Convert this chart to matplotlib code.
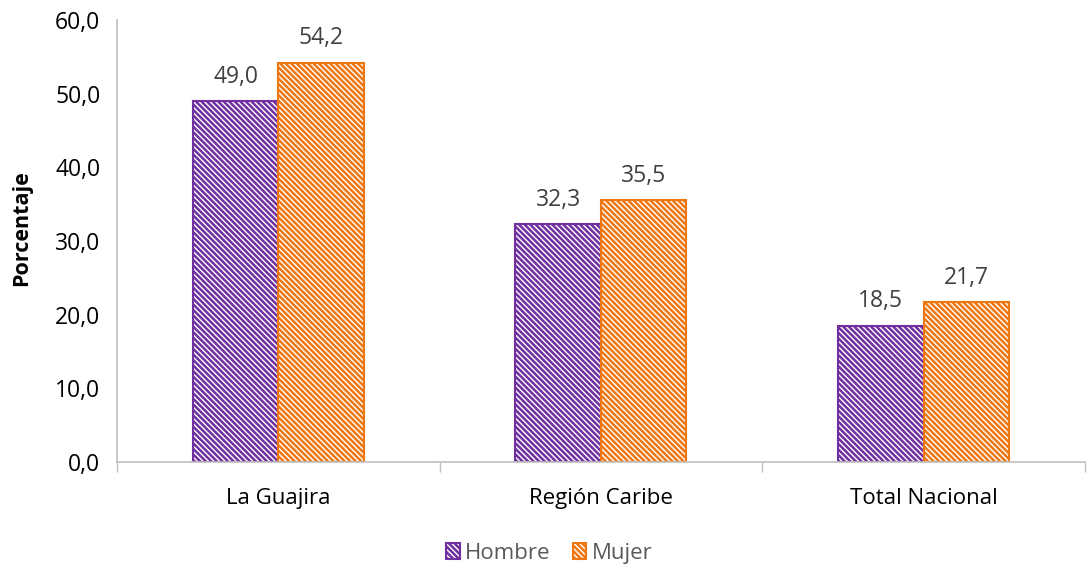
import matplotlib
matplotlib.use('Agg')
import matplotlib.pyplot as plt
import numpy as np

categorias = ["La Guajira", "Región Caribe", "Total Nacional"]
hombre = [49.0, 32.3, 18.5]
mujer = [54.2, 35.5, 21.7]
series = ["Hombre", "Mujer"]
yticks = [0, 10, 20, 30, 40, 50, 60]

purple = "#7030A0"
orange = "#EE7711"
text_gray = "#404040"

plt.rcParams['font.family'] = ['Open Sans', 'DejaVu Sans']
plt.rcParams['hatch.linewidth'] = 1.8

fig = plt.figure(figsize=(10.87, 5.64), dpi=100)
ax = fig.add_axes([0.1076, 0.181, 0.8904, 0.7835])

x = np.arange(len(categorias))
w = 0.265
hatch = "\\" * 6
b1 = ax.bar(x - w / 2, hombre, w, facecolor="white", edgecolor=purple,
            hatch=hatch, linewidth=1.5, label=series[0])
b2 = ax.bar(x + w / 2, mujer, w, facecolor="white", edgecolor=orange,
            hatch=hatch, linewidth=1.5, label=series[1])

def fmt(v):
    return ("%.1f" % v).replace(".", ",")

for bars, vals in ((b1, hombre), (b2, mujer)):
    for rect, v in zip(bars, vals):
        ax.annotate(fmt(v), (rect.get_x() + rect.get_width() / 2, v),
                    xytext=(0, 9), textcoords="offset points",
                    ha="center", va="bottom", fontsize=16.5, color=text_gray)

ax.set_xlim(-0.5, 2.5)
ax.set_ylim(0, 60)
ax.set_yticks(yticks)
ax.set_yticklabels([fmt(v) for v in yticks])
ax.set_xticks(x)
ax.set_xticklabels(categorias)
ax.set_xticks([-0.5, 0.5, 1.5, 2.5], minor=True)
ax.tick_params(axis='x', which='major', length=0, pad=19, labelsize=16, labelcolor="#000000")
ax.tick_params(axis='x', which='minor', length=7, color="#BFBFBF", width=1)
ax.tick_params(axis='y', length=0, pad=12, labelsize=16.5, labelcolor="#000000")

for s in ('top', 'right'):
    ax.spines[s].set_visible(False)
for s in ('left', 'bottom'):
    ax.spines[s].set_color("#BFBFBF")
    ax.spines[s].set_linewidth(1.2)

ax.set_ylabel("Porcentaje", fontsize=15.5, fontweight="bold")
ax.yaxis.set_label_coords(-0.088, 0.53)

leg = ax.legend(loc="center", bbox_to_anchor=(0.447, -0.207), ncol=2, frameon=False,
                fontsize=16, handlelength=0.6, handleheight=0.7, handletextpad=0.25,
                columnspacing=1.0, labelcolor="#595959")

fig.savefig("out.png", dpi=100)
